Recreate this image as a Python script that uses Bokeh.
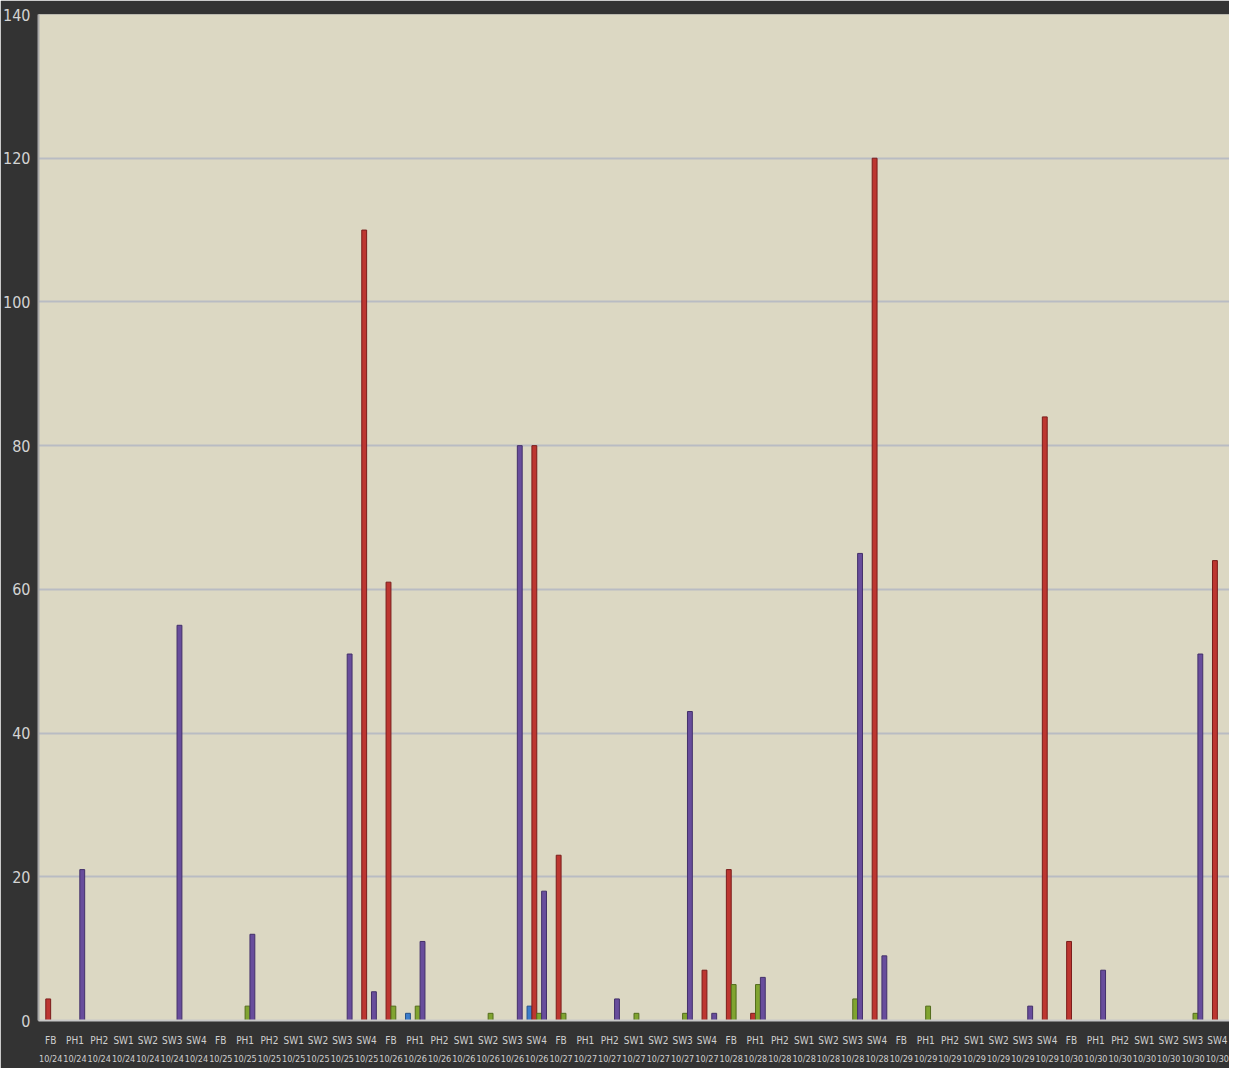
from bokeh.plotting import figure
from bokeh.models import FixedTicker, ColumnDataSource, Range1d, LinearAxis
from bokeh.embed import file_html
from bokeh.resources import INLINE

names = ["FB", "PH1", "PH2", "SW1", "SW2", "SW3", "SW4"]
dates = ["10/24", "10/25", "10/26", "10/27", "10/28", "10/29", "10/30"]

# values per category, grouped by date (FB, PH1, PH2, SW1, SW2, SW3, SW4)
blue = [
    0, 0, 0, 0, 0, 0, 0,
    0, 0, 0, 0, 0, 0, 0,
    0, 1, 0, 0, 0, 0, 2,
    0, 0, 0, 0, 0, 0, 0,
    0, 0, 0, 0, 0, 0, 0,
    0, 0, 0, 0, 0, 0, 0,
    0, 0, 0, 0, 0, 0, 0,
]
red = [
    3, 0, 0, 0, 0, 0, 0,
    0, 0, 0, 0, 0, 0, 110,
    61, 0, 0, 0, 0, 0, 80,
    23, 0, 0, 0, 0, 0, 7,
    21, 1, 0, 0, 0, 0, 120,
    0, 0, 0, 0, 0, 0, 84,
    11, 0, 0, 0, 0, 0, 64,
]
green = [
    0, 0, 0, 0, 0, 0, 0,
    0, 2, 0, 0, 0, 0, 0,
    2, 2, 0, 0, 1, 0, 1,
    1, 0, 0, 1, 0, 1, 0,
    5, 5, 0, 0, 0, 3, 0,
    0, 2, 0, 0, 0, 0, 0,
    0, 0, 0, 0, 0, 1, 0,
]
purple = [
    0, 21, 0, 0, 0, 55, 0,
    0, 12, 0, 0, 0, 51, 4,
    0, 11, 0, 0, 0, 80, 18,
    0, 0, 3, 0, 0, 43, 1,
    0, 6, 0, 0, 0, 65, 9,
    0, 0, 0, 0, 0, 2, 0,
    0, 7, 0, 0, 0, 51, 0,
]
y_ticks = [0, 20, 40, 60, 80, 100, 120, 140]

cat_names = [n for d in dates for n in names]
cat_dates = [d for d in dates for n in names]
idx = list(range(len(cat_names)))
name_labels = {i: n for i, n in zip(idx, cat_names)}
date_labels = {i: d for i, d in zip(idx, cat_dates)}

FONT = "DejaVu Sans Condensed"

p = figure(
    x_range=Range1d(-0.5, len(idx) - 0.5),
    y_range=Range1d(0, 140),
    width=1229, height=1068,
    output_backend="svg", toolbar_location=None,
    min_border_left=38, min_border_right=0, min_border_top=14, min_border_bottom=48,
)
p.border_fill_color = "#333333"
p.background_fill_color = "#dcd8c3"
p.outline_line_color = None

series = [
    (blue, -0.3, "#3b7dcb", "#24518a"),
    (red, -0.1, "#bd3630", "#7a1d1b"),
    (green, 0.1, "#80a430", "#526c1c"),
    (purple, 0.3, "#684d9c", "#43306a"),
]
for vals, off, col, edge in series:
    xs = [i + off for i, v in zip(idx, vals) if v > 0]
    ys = [v for v in vals if v > 0]
    src = ColumnDataSource(dict(x=xs, top=ys))
    p.vbar(x="x", top="top", bottom=0, width=0.2,
           source=src, fill_color=col, line_color=edge, line_width=1)

p.ygrid.ticker = FixedTicker(ticks=y_ticks)
p.ygrid.grid_line_color = "#b9bcc3"
p.ygrid.grid_line_width = 2
p.xgrid.grid_line_color = None

p.yaxis.ticker = FixedTicker(ticks=y_ticks)
p.yaxis.major_tick_line_color = None
p.yaxis.minor_tick_line_color = None
p.yaxis.major_tick_out = 0
p.yaxis.minor_tick_out = 0
p.yaxis.axis_line_color = "#a9a9a9"
p.yaxis.axis_line_width = 2
p.yaxis.major_label_text_color = "#d4d4d4"
p.yaxis.major_label_text_font = FONT
p.yaxis.major_label_text_font_size = "16px"
p.yaxis.major_label_standoff = 8

xa = p.xaxis[0]
xa.ticker = FixedTicker(ticks=idx)
xa.major_label_overrides = name_labels
xa.major_tick_line_color = None
xa.minor_tick_line_color = None
xa.major_tick_out = 0
xa.minor_tick_out = 0
xa.axis_line_color = "#c8c8c8"
xa.axis_line_width = 2
xa.major_label_text_color = "#cfcfcf"
xa.major_label_text_font = FONT
xa.major_label_text_font_size = "10px"
xa.major_label_standoff = 14

xa2 = LinearAxis(
    ticker=FixedTicker(ticks=idx),
    major_label_overrides=date_labels,
    major_tick_line_color=None, minor_tick_line_color=None,
    major_tick_out=0, minor_tick_out=0,
    axis_line_color=None,
    major_label_text_color="#cfcfcf",
    major_label_text_font=FONT,
    major_label_text_font_size="9px",
    major_label_standoff=5,
)
p.add_layout(xa2, "below")

open("out.html", "w").write(file_html(p, INLINE))
